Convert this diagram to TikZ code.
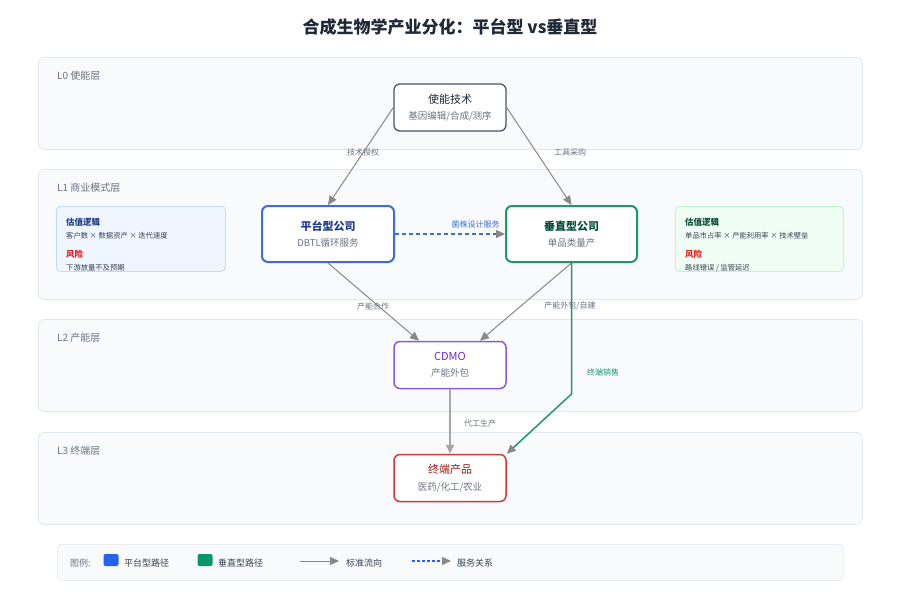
\documentclass[tikz,border=0pt]{standalone}
\usepackage{fontspec}
\setmainfont{Noto Sans CJK SC}
\usetikzlibrary{arrows.meta,positioning}
\definecolor{ink}{HTML}{1F2937}
\definecolor{muted}{HTML}{6B7280}
\definecolor{body}{HTML}{374151}
\definecolor{line}{HTML}{E2E8F0}
\definecolor{layerbg}{HTML}{F8FAFC}
\definecolor{slate}{HTML}{4B5563}
\definecolor{plat}{HTML}{3B6FD4}
\definecolor{platdk}{HTML}{1E3A8A}
\definecolor{platbg}{HTML}{EFF6FF}
\definecolor{platln}{HTML}{BFDBFE}
\definecolor{platsw}{HTML}{2563EB}
\definecolor{vert}{HTML}{1A9A6C}
\definecolor{vertdk}{HTML}{064E3B}
\definecolor{vertbg}{HTML}{F0FDF4}
\definecolor{vertln}{HTML}{BBF7D0}
\definecolor{vertsw}{HTML}{059669}
\definecolor{cdmo}{HTML}{8B5CD6}
\definecolor{cdmodk}{HTML}{6D28D9}
\definecolor{prod}{HTML}{D0393B}
\definecolor{proddk}{HTML}{991B1B}
\definecolor{risk}{HTML}{DC2626}
\definecolor{arrowgray}{HTML}{888888}
\definecolor{legbg}{HTML}{F9FAFB}
\definecolor{legln}{HTML}{E5E7EB}
\newcommand{\cardtext}[3]{{\color{#1}\fontsize{11}{13}\selectfont #2}\\{\color{muted}\fontsize{9.5}{12}\selectfont #3}}
\tikzset{
  layer/.style={draw=line,fill=layerbg,rounded corners=6pt,anchor=north west,minimum width=824pt,inner sep=0pt,line width=0.8pt},
  tag/.style={font=\fontsize{10}{12}\selectfont,text=muted,anchor=west,inner sep=0pt},
  card/.style={draw=#1,fill=white,rounded corners=6pt,line width=1.5pt,minimum width=112pt,minimum height=47pt,align=center,inner sep=2pt,font=\fontsize{9.5}{16.5}\selectfont},
  infobox/.style={rounded corners=4pt,anchor=north west,minimum height=65pt,inner sep=0pt,line width=0.8pt},
  head/.style={font=\fontsize{8.5}{10}\selectfont\bfseries,anchor=west,inner sep=0pt},
  body/.style={font=\fontsize{7.3}{9}\selectfont,text=body,anchor=west,inner sep=0pt},
  elbl/.style={font=\fontsize{8}{10}\selectfont,text=muted,inner sep=0pt},
  flow/.style={-{Triangle[length=9pt,width=8pt]},draw=arrowgray,line width=1pt},
  svc/.style={-{Triangle[length=9pt,width=8pt,color=arrowgray]},draw=plat,line width=1.5pt,dash pattern=on 4pt off 3pt},
  sale/.style={-{Triangle[length=9pt,width=8pt,color=arrowgray]},draw=vert,line width=1.5pt},
  legtxt/.style={font=\fontsize{9}{11}\selectfont,text=body,anchor=west,inner sep=0pt},
  swatch/.style={rounded corners=2pt,minimum width=15pt,minimum height=12pt,inner sep=0pt},
}
\begin{document}
\begin{tikzpicture}[x=1pt,y=-1pt]
  \fill[white] (0,0) rectangle (900,600);
  \useasboundingbox (0,0) rectangle (900,600);
  \node[font=\fontsize{17}{20}\selectfont\bfseries,text=ink] (title) at (450,27) {合成生物学产业分化：平台型 vs垂直型};
  % layers
  \foreach \n/\y/\h/\t in {0/57/92/L0 使能层,1/169/130/L1 商业模式层,2/319/92/L2 产能层,3/432/92/L3 终端层} {
    \node[layer,minimum height=\h pt] (lay\n) at (38,\y) {};
    \node[tag] (tag\n) at (57,\y+19) {\t};
  }
  % valuation boxes
  \node[infobox,draw=platln,fill=platbg,minimum width=169pt] (pval) at (56,206) {};
  \node[head,text=platdk] (pvh) at (66,222) {估值逻辑};
  \node[body] (pvb) at (66,236) {客户数 × 数据资产 × 迭代速度};
  \node[head,text=risk] (prh) at (66,254) {风险};
  \node[body] (prb) at (66,268) {下游放量不及预期};
  \node[infobox,draw=vertln,fill=vertbg,minimum width=168pt] (vval) at (675,206) {};
  \node[head,text=vertdk] (vvh) at (685,222) {估值逻辑};
  \node[body] (vvb) at (685,236) {单品市占率 × 产能利用率 × 技术壁垒};
  \node[head,text=risk] (vrh) at (685,254) {风险};
  \node[body] (vrb) at (685,268) {路线错误 / 监管延迟};
  % main nodes
  \node[card=slate,line width=1.3pt] (tech) at (450,107.5) {\cardtext{ink}{使能技术}{基因编辑/合成/测序}};
  \node[card=plat,line width=2pt,minimum width=132pt,minimum height=56pt] (plat) at (328,234) {\cardtext{platdk}{\bfseries 平台型公司}{DBTL循环服务}};
  \node[card=vert,line width=2pt,minimum width=131pt,minimum height=56pt] (vert) at (571.5,234) {\cardtext{vertdk}{\bfseries 垂直型公司}{单品类量产}};
  \node[card=cdmo] (cdmo) at (450,365) {\cardtext{cdmodk}{CDMO}{产能外包}};
  \node[card=prod] (prod) at (450,478) {\cardtext{proddk}{终端产品}{医药/化工/农业}};
  % connectors
  \draw[flow] (tech.west) -- (plat.north);
  \draw[flow] (tech.east) -- (vert.north);
  \draw[flow] (plat.south) -- ([xshift=-31pt]cdmo.north);
  \draw[flow] (vert.south) -- ([xshift=30pt]cdmo.north);
  \draw[flow,draw=arrowgray!75,line width=1.8pt] (cdmo.south) -- (prod.north);
  \draw[svc] (plat.east) -- (vert.west);
  \draw[sale] (vert.south) -- ++(0,131) -- (prod.north east);
  \node[elbl] (lbl1) at (363,152) {技术授权};
  \node[elbl] (lbl2) at (570,152) {工具采购};
  \node[elbl,text=plat] (lbl3) at (475.5,224) {菌株设计服务};
  \node[elbl] (lbl4) at (373,306) {产能合作};
  \node[elbl] (lbl5) at (570,306) {产能外包/自建};
  \node[elbl,text=vert] (lbl6) at (603,372) {终端销售};
  \node[elbl] (lbl7) at (480,423) {代工生产};
  % legend
  \node[draw=legln,fill=legbg,rounded corners=4pt,anchor=north west,minimum width=786pt,minimum height=36pt,inner sep=0pt,line width=0.6pt] (leg) at (57,544) {};
  \node[legtxt,text=muted] (lg0) at (70,563) {图例:};
  \node[swatch,fill=platsw] (sw1) at (111,560) {};
  \node[legtxt] (lg1) at (124,563) {平台型路径};
  \node[swatch,fill=vertsw] (sw2) at (205,560) {};
  \node[legtxt] (lg2) at (218,563) {垂直型路径};
  \coordinate (fs) at (300,561);
  \coordinate (fe) at (339,561);
  \draw[flow] (fs) -- (fe);
  \node[legtxt] (lg3) at (346,563) {标准流向};
  \coordinate (ss) at (412,561);
  \coordinate (se) at (451,561);
  \draw[svc,draw=platsw,line width=1.2pt,dash pattern=on 3pt off 2pt] (ss) -- (se);
  \node[legtxt] (lg4) at (457,563) {服务关系};
\end{tikzpicture}
\end{document}
